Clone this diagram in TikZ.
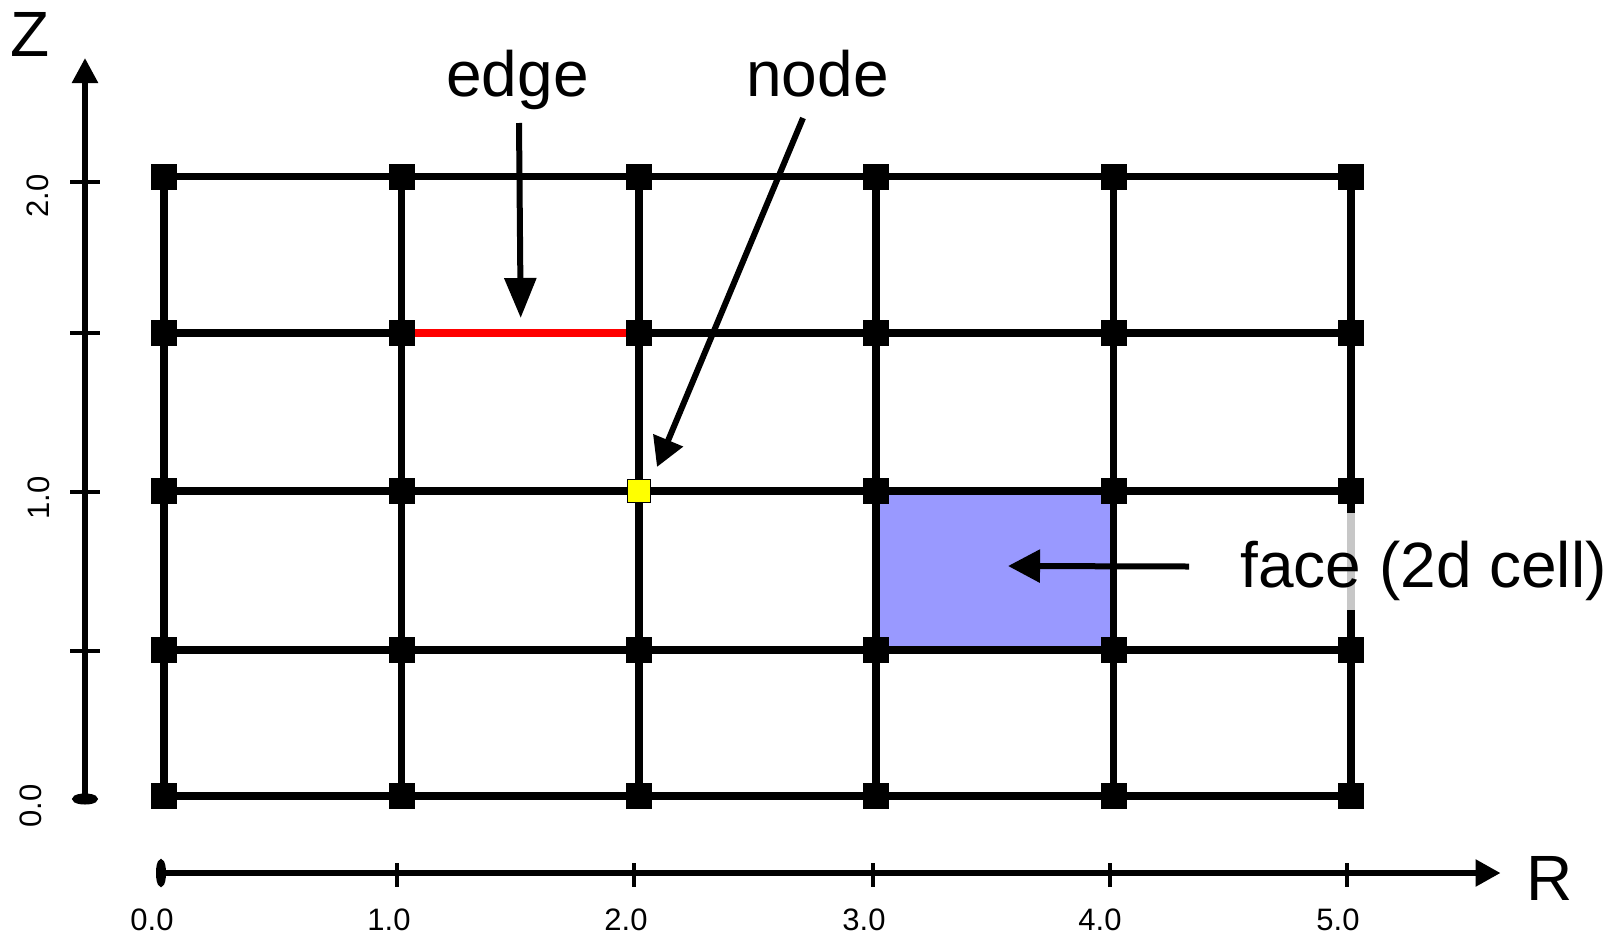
\documentclass[tikz,border=0pt]{standalone}
\usepackage{fontspec}
\setmainfont{Liberation Sans}
\usetikzlibrary{arrows.meta,positioning,backgrounds}
\definecolor{faceFill}{HTML}{9999FF}
\definecolor{hitFill}{HTML}{FFFF00}
\definecolor{edgeRed}{HTML}{FF0000}
\tikzset{
  gline/.style ={line width=3.75pt},
  redge/.style ={line width=3.75pt, draw=edgeRed},
  gnode/.style ={fill=black, minimum size=13pt, inner sep=0pt, outer sep=0pt},
  ynode/.style ={fill=hitFill, draw=black, line width=0.75pt, minimum size=11.5pt, inner sep=0pt, outer sep=0.4pt},
  face/.style  ={fill=faceFill},
  axis/.style  ={line width=2.8pt},
  tick/.style  ={line width=2pt},
  arr/.style   ={-{Triangle[length=16pt, width=16pt]}, line width=3pt},
  big/.style   ={font=\fontsize{32}{38}\selectfont},
  small/.style ={font=\fontsize{15.5}{18}\selectfont},
}

\begin{document}
\begin{tikzpicture}[x=0.5pt, y=-0.5pt]
  \useasboundingbox (0,0) rectangle (1620,937);

  % mesh nodes, rows counted from the bottom
  \foreach \c/\x in {0/164,1/401.5,2/639,3/876,4/1113.5,5/1351}{
    \foreach \r/\y in {0/796,1/650,2/491,3/333,4/176.5}{
      \ifnum\c\r=22 \def\st{ynode}\else\def\st{gnode}\fi
      \node[\st] (n\c\r) at (\x,\y) {};
    }
  }

  % the highlighted cell sits under everything else
  \begin{scope}[on background layer]
    \fill[face] (n31.center) rectangle (n42.center);
  \end{scope}

  % mesh edges
  \foreach \r in {0,...,4}{
    \foreach \c [evaluate=\c as \d using int(\c+1)] in {0,...,4}{
      \ifnum\c\r=13 \def\st{redge}\else\def\st{gline}\fi
      \draw[\st] (n\c\r) -- (n\d\r);
    }
  }
  \foreach \c in {0,...,5}{
    \foreach \r [evaluate=\r as \s using int(\r+1)] in {0,...,3}{
      \draw[gline] (n\c\r) -- (n\c\s);
    }
  }

  % axes
  \coordinate (zlo) at (85,804.5);
  \coordinate (zhi) at (85,58);
  \coordinate (rlo) at (156,873);
  \coordinate (rhi) at (1500.5,873);
  \draw[axis, {Ellipse[length=5.5pt, width=12.5pt]}-{Triangle[length=12.5pt, width=12.5pt]}] (zlo) -- (zhi);
  \draw[axis, {Ellipse[length=5pt, width=13.5pt]}-{Triangle[length=12.5pt, width=13pt]}] (rlo) -- (rhi);
  \foreach \y in {182,333,492,651}
    \draw[tick] (70,\y) -- (100,\y);
  \foreach \x in {397,634,873,1110,1347}
    \draw[tick] (\x,863) -- (\x,887);
  \node[big] (zlbl) at (30,34) {Z};
  \node[big] (rlbl) at (1550,878) {R};
  \foreach \x/\t in {152/0.0,389/1.0,626/2.0,864/3.0,1100/4.0,1338/5.0}
    \node[small] (rt\t) at (\x,920) {\t};
  \foreach \xx/\y/\t in {31/806/0.0,39/498/1.0,38/196/2.0}
    \node[small, rotate=90] (zt\t) at (\xx,\y) {\t};

  % labels and pointers
  \node[big, anchor=base] (edgelbl) at (517.5,96) {edge};
  \node[big, anchor=base] (nodelbl) at (817.5,96) {node};
  \node[big, anchor=base west, fill=white, fill opacity=0.78, text opacity=1,
        inner xsep=2pt, inner ysep=0pt, text height=37pt, text depth=11.5pt] (facelbl) at (1236,587) {face (2d cell)};
  \coordinate (edgefrom) at (519,123);
  \coordinate (edgeto) at (520.7,318);
  \coordinate (nodefrom) at (803,118);
  \coordinate (nodeto) at (657,467);
  \coordinate (facefrom) at (1189,566.5);
  \coordinate (faceto) at (1008,566);
  \draw[arr, -{Triangle[length=20pt, width=15.5pt]}] (edgefrom) -- (edgeto);
  \draw[arr, -{Triangle[length=14.5pt, width=15.5pt]}] (nodefrom) -- (nodeto);
  \draw[arr] (facefrom) -- (faceto);
\end{tikzpicture}
\end{document}
